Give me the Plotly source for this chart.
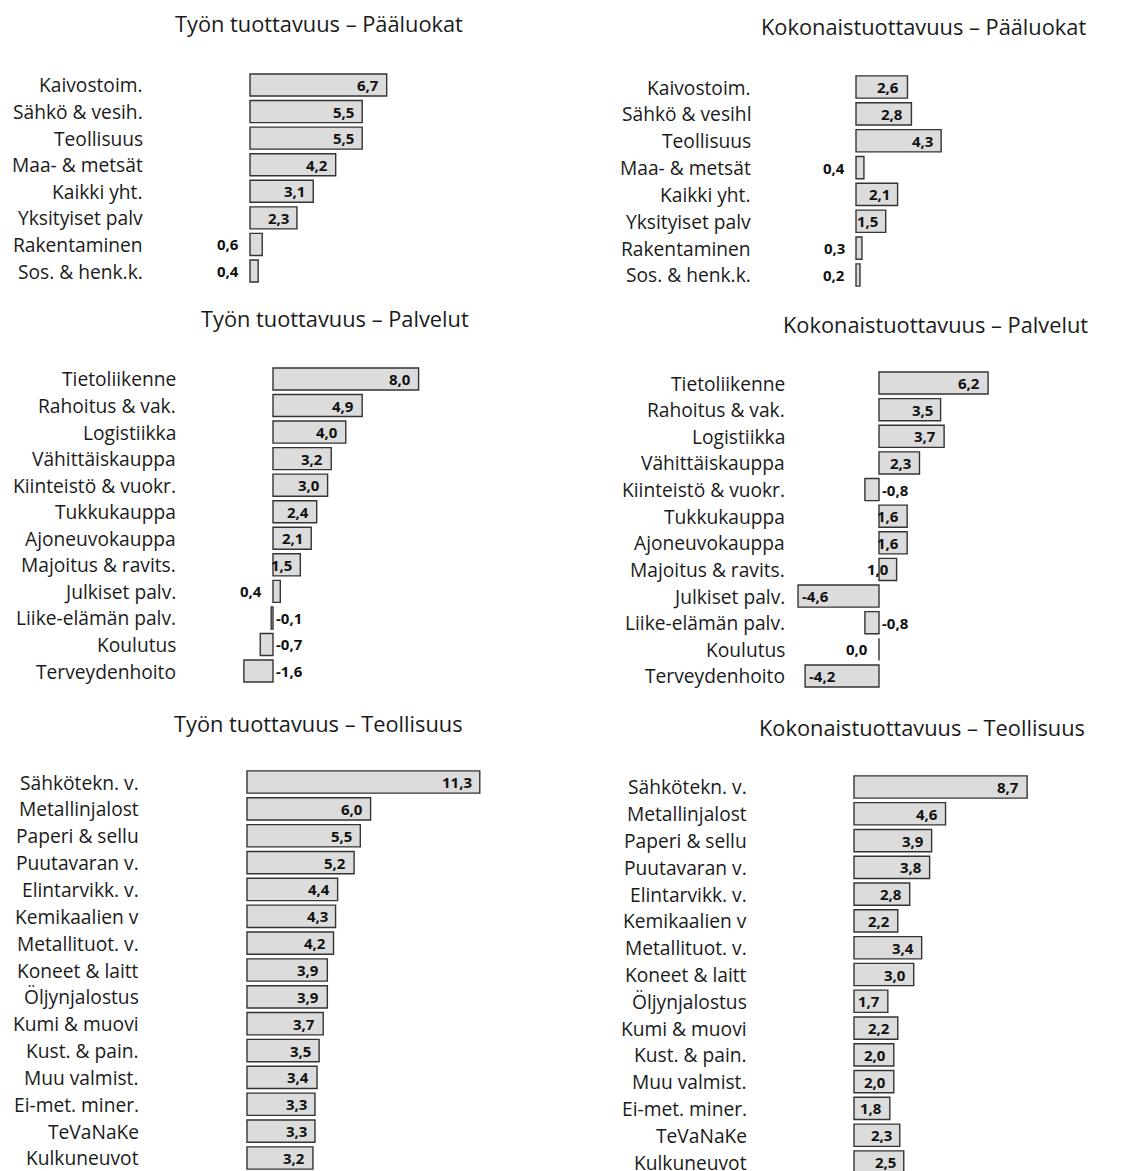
import plotly.graph_objects as go

W, H = 1143, 1171

# --- data ---
paa_cats_tyo = ["Kaivostoim.", "Sähkö & vesih.", "Teollisuus", "Maa- & metsät",
                "Kaikki yht.", "Yksityiset palv", "Rakentaminen", "Sos. & henk.k."]
paa_tyo = [6.7, 5.5, 5.5, 4.2, 3.1, 2.3, 0.6, 0.4]

paa_cats_kok = ["Kaivostoim.", "Sähkö & vesihl", "Teollisuus", "Maa- & metsät",
                "Kaikki yht.", "Yksityiset palv", "Rakentaminen", "Sos. & henk.k."]
paa_kok = [2.6, 2.8, 4.3, 0.4, 2.1, 1.5, 0.3, 0.2]

palv_cats = ["Tietoliikenne", "Rahoitus & vak.", "Logistiikka", "Vähittäiskauppa",
             "Kiinteistö & vuokr.", "Tukkukauppa", "Ajoneuvokauppa", "Majoitus & ravits.",
             "Julkiset palv.", "Liike-elämän palv.", "Koulutus", "Terveydenhoito"]
palv_tyo = [8.0, 4.9, 4.0, 3.2, 3.0, 2.4, 2.1, 1.5, 0.4, -0.1, -0.7, -1.6]

palv_cats_kok = ["Tietoliikenne", "Rahoitus & vak.", "Logistiikka", "Vähittäiskauppa",
                 "Kiinteistö & vuokr.", "Tukkukauppa", "Ajoneuvokauppa", "Majoitus & ravits.",
                 "Julkiset palv.", "Liike-elämän palv.", "Koulutus", "Terveydenhoito"]
palv_kok = [6.2, 3.5, 3.7, 2.3, -0.8, 1.6, 1.6, 1.0, -4.6, -0.8, 0.0, -4.2]

teol_cats = ["Sähkötekn. v.", "Metallinjalost", "Paperi & sellu", "Puutavaran v.",
             "Elintarvikk. v.", "Kemikaalien v", "Metallituot. v.", "Koneet & laitt",
             "Öljynjalostus", "Kumi & muovi", "Kust. & pain.", "Muu valmist.",
             "Ei-met. miner.", "TeVaNaKe", "Kulkuneuvot"]
teol_tyo = [11.3, 6.0, 5.5, 5.2, 4.4, 4.3, 4.2, 3.9, 3.9, 3.7, 3.5, 3.4, 3.3, 3.3, 3.2]
teol_kok = [8.7, 4.6, 3.9, 3.8, 2.8, 2.2, 3.4, 3.0, 1.7, 2.2, 2.0, 2.0, 1.8, 2.3, 2.5]

titles = ["Työn tuottavuus – Pääluokat", "Kokonaistuottavuus – Pääluokat",
          "Työn tuottavuus – Palvelut", "Kokonaistuottavuus – Palvelut",
          "Työn tuottavuus – Teollisuus", "Kokonaistuottavuus – Teollisuus"]

# panel layout in pixels: zero x, px per unit, x range, top/bottom of rows, label right edge, title centre
panels = [
    dict(cats=paa_cats_tyo, vals=paa_tyo, zero=250, scale=20.4, xr=(-1.5, 7.5),
         top=71.7, bot=284.3, lab=145, tx=319, ty=23),
    dict(cats=paa_cats_kok, vals=paa_kok, zero=856, scale=19.8, xr=(-1.0, 5.0),
         top=73.6, bot=288.4, lab=753, tx=923, ty=26),
    dict(cats=palv_cats, vals=palv_tyo, zero=273, scale=18.2, xr=(-2.5, 8.5),
         top=365.7, bot=684.3, lab=178, tx=335, ty=319),
    dict(cats=palv_cats_kok, vals=palv_kok, zero=879, scale=17.6, xr=(-5.5, 7.0),
         top=369.7, bot=689.3, lab=787, tx=935, ty=324),
    dict(cats=teol_cats, vals=teol_tyo, zero=247, scale=20.6, xr=(-1.5, 12.0),
         top=768.6, bot=1171.4, lab=141, tx=318, ty=723),
    dict(cats=teol_cats, vals=teol_kok, zero=854, scale=19.9, xr=(-1.5, 9.5),
         top=773.6, bot=1175.4, lab=749, tx=922, ty=727),
]

LABEL_FONT = "Open Sans"
fig = go.Figure()
annotations = []
layout_axes = {}

for i, p in enumerate(panels):
    k = "" if i == 0 else str(i + 1)
    n = len(p["cats"])
    x0 = p["zero"] + p["xr"][0] * p["scale"]
    x1 = p["zero"] + p["xr"][1] * p["scale"]
    row = (p["bot"] - p["top"]) / n
    top, bot = p["top"], min(p["bot"], H)
    yr = (n - 0.5 - (p["bot"] - bot) / row, -0.5)

    fig.add_trace(go.Bar(
        x=p["vals"], y=p["cats"], orientation="h",
        xaxis="x" + k, yaxis="y" + k,
        marker=dict(color="#dcdcdc", line=dict(color="#333333", width=1.4)),
        width=0.83, showlegend=False, hoverinfo="x+y",
    ))

    layout_axes["xaxis" + k] = dict(domain=[x0 / W, x1 / W], range=list(p["xr"]),
                                    anchor="y" + k, visible=False, fixedrange=True)
    layout_axes["yaxis" + k] = dict(domain=[1 - bot / H, 1 - top / H], range=list(yr),
                                    anchor="x" + k, visible=False, type="category")

    # category labels
    for c in p["cats"]:
        annotations.append(dict(x=p["lab"] / W, xref="paper", y=c, yref="y" + k,
                                text=c, showarrow=False, xanchor="right",
                                font=dict(family=LABEL_FONT, size=19.2, color="#1a1a1a")))
    # value labels
    for c, v in zip(p["cats"], p["vals"]):
        txt = f"{v:.1f}".replace(".", ",")
        px = abs(v) * p["scale"]
        if v > 0 and px >= 15:
            ax, anc, sh = v, "right", -6
        elif v < 0 and px >= 50:
            ax, anc, sh = v, "left", 2
        elif v < 0:
            ax, anc, sh = 0, "left", 1
        else:
            ax, anc, sh = 0, "right", -9
        annotations.append(dict(x=ax, xref="x" + k, y=c, yref="y" + k, text="<b>" + txt + "</b>",
                                showarrow=False, xanchor=anc, xshift=sh,
                                font=dict(family=LABEL_FONT, size=15, color="#111111")))

    annotations.append(dict(x=p["tx"] / W, y=1 - p["ty"] / H, xref="paper", yref="paper",
                            text=titles[i], showarrow=False, xanchor="center", yanchor="middle",
                            font=dict(family=LABEL_FONT, size=21.8, color="#1a1a1a")))

fig.update_layout(
    width=W, height=H,
    margin=dict(l=0, r=0, t=0, b=0),
    paper_bgcolor="white", plot_bgcolor="white",
    annotations=annotations,
    **layout_axes,
)

fig.write_html("out.html", config={"displayModeBar": False},
               post_script="document.body.style.margin='0';")
